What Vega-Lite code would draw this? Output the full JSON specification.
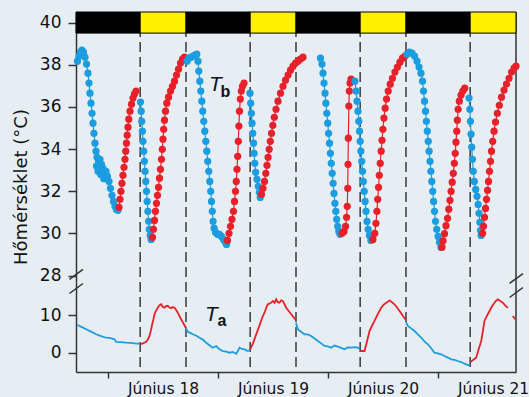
{
"$schema": "https://vega.github.io/schema/vega-lite/v6.json",
"background": "#e6eef4",
"padding": {"left": 12, "top": 11, "right": 0, "bottom": 0},
"bounds": "flush",
"config": {
 "view": {"stroke": null},
 "axis": {"labelFont": "DejaVu Sans", "titleFont": "DejaVu Sans", "labelColor": "#111", "titleColor": "#111", "domainColor": "#333", "tickColor": "#333", "domainWidth": 1.5, "tickWidth": 1.5, "grid": false}
},
"datasets": {
 "light": [{"start":-7,"end":7,"kind":"night"},{"start":7,"end":17,"kind":"day"},{"start":17,"end":31,"kind":"night"},{"start":31,"end":41,"kind":"day"},{"start":41,"end":55,"kind":"night"},{"start":55,"end":65,"kind":"day"},{"start":65,"end":79,"kind":"night"},{"start":79,"end":89,"kind":"day"}],
 "dash": [{"t":7},{"t":17},{"t":31},{"t":41},{"t":55},{"t":65},{"t":79}],
 "tb": [
{"t":-6.68,"v":38.17,"p":"cool","s":1},{"t":-6.35,"v":38.41,"p":"cool","s":1},{"t":-6.02,"v":38.60,"p":"cool","s":1},{"t":-5.70,"v":38.69,"p":"cool","s":1},{"t":-5.37,"v":38.60,"p":"cool","s":1},{"t":-5.04,"v":38.36,"p":"cool","s":1},{"t":-4.71,"v":38.03,"p":"cool","s":1},{"t":-4.39,"v":37.60,"p":"cool","s":1},{"t":-4.17,"v":37.13,"p":"cool","s":1},{"t":-3.95,"v":36.65,"p":"cool","s":1},{"t":-3.73,"v":36.18,"p":"cool","s":1},{"t":-3.51,"v":35.70,"p":"cool","s":1},{"t":-3.29,"v":35.23,"p":"cool","s":1},{"t":-3.08,"v":34.75,"p":"cool","s":1},{"t":-2.86,"v":34.28,"p":"cool","s":1},{"t":-2.64,"v":33.90,"p":"cool","s":1},{"t":-2.53,"v":33.20,"p":"cool","s":1},{"t":-2.42,"v":33.61,"p":"cool","s":1},{"t":-2.20,"v":32.95,"p":"cool","s":1},{"t":-2.09,"v":33.42,"p":"cool","s":1},{"t":-1.77,"v":33.52,"p":"cool","s":1},{"t":-1.60,"v":32.80,"p":"cool","s":1},{"t":-1.44,"v":33.28,"p":"cool","s":1},{"t":-1.11,"v":33.09,"p":"cool","s":1},{"t":-0.95,"v":32.60,"p":"cool","s":1},{"t":-0.79,"v":32.85,"p":"cool","s":1},{"t":-0.46,"v":32.95,"p":"cool","s":1},{"t":-0.13,"v":32.71,"p":"cool","s":1},{"t":0.20,"v":32.47,"p":"cool","s":1},{"t":0.52,"v":32.14,"p":"cool","s":1},{"t":0.85,"v":31.81,"p":"cool","s":1},{"t":1.18,"v":31.52,"p":"cool","s":1},{"t":1.51,"v":31.29,"p":"cool","s":1},{"t":1.83,"v":31.14,"p":"cool","s":1},{"t":2.16,"v":31.10,"p":"cool","s":1},
{"t":2.38,"v":31.24,"p":"warm","s":1},{"t":2.60,"v":31.62,"p":"warm","s":1},{"t":2.81,"v":32.00,"p":"warm","s":1},{"t":3.03,"v":32.38,"p":"warm","s":1},{"t":3.25,"v":32.76,"p":"warm","s":1},{"t":3.47,"v":33.14,"p":"warm","s":1},{"t":3.69,"v":33.52,"p":"warm","s":1},{"t":3.86,"v":33.90,"p":"warm","s":1},{"t":4.01,"v":34.28,"p":"warm","s":1},{"t":4.17,"v":34.66,"p":"warm","s":1},{"t":4.34,"v":35.04,"p":"warm","s":1},{"t":4.52,"v":35.42,"p":"warm","s":1},{"t":4.78,"v":35.80,"p":"warm","s":1},{"t":5.11,"v":36.13,"p":"warm","s":1},{"t":5.43,"v":36.42,"p":"warm","s":1},{"t":5.76,"v":36.61,"p":"warm","s":1},{"t":6.09,"v":36.75,"p":"warm","s":1},
{"t":7.07,"v":36.23,"p":"cool","s":2},{"t":7.22,"v":35.80,"p":"cool","s":2},{"t":7.35,"v":35.32,"p":"cool","s":2},{"t":7.48,"v":34.85,"p":"cool","s":2},{"t":7.62,"v":34.37,"p":"cool","s":2},{"t":7.77,"v":33.90,"p":"cool","s":2},{"t":7.92,"v":33.42,"p":"cool","s":2},{"t":8.07,"v":32.95,"p":"cool","s":2},{"t":8.23,"v":32.47,"p":"cool","s":2},{"t":8.38,"v":32.00,"p":"cool","s":2},{"t":8.53,"v":31.52,"p":"cool","s":2},{"t":8.68,"v":31.05,"p":"cool","s":2},{"t":8.84,"v":30.58,"p":"cool","s":2},{"t":8.99,"v":30.20,"p":"cool","s":2},{"t":9.19,"v":29.91,"p":"cool","s":2},{"t":9.40,"v":29.72,"p":"cool","s":2},
{"t":9.69,"v":29.82,"p":"warm","s":2},{"t":9.91,"v":30.20,"p":"warm","s":2},{"t":10.12,"v":30.62,"p":"warm","s":2},{"t":10.34,"v":31.05,"p":"warm","s":2},{"t":10.56,"v":31.43,"p":"warm","s":2},{"t":10.78,"v":31.81,"p":"warm","s":2},{"t":11.00,"v":32.19,"p":"warm","s":2},{"t":11.22,"v":32.62,"p":"warm","s":2},{"t":11.43,"v":33.04,"p":"warm","s":2},{"t":11.65,"v":33.52,"p":"warm","s":2},{"t":11.83,"v":33.99,"p":"warm","s":2},{"t":11.98,"v":34.47,"p":"warm","s":2},{"t":12.13,"v":34.94,"p":"warm","s":2},{"t":12.31,"v":35.37,"p":"warm","s":2},{"t":12.53,"v":35.80,"p":"warm","s":2},{"t":12.81,"v":36.18,"p":"warm","s":2},{"t":13.18,"v":36.46,"p":"warm","s":2},{"t":13.62,"v":36.75,"p":"warm","s":2},{"t":14.05,"v":36.98,"p":"warm","s":2},{"t":14.49,"v":37.22,"p":"warm","s":2},{"t":14.93,"v":37.51,"p":"warm","s":2},{"t":15.36,"v":37.79,"p":"warm","s":2},{"t":15.80,"v":38.08,"p":"warm","s":2},{"t":16.24,"v":38.27,"p":"warm","s":2},{"t":16.67,"v":38.36,"p":"warm","s":2},
{"t":17.22,"v":38.17,"p":"cool","s":3},{"t":17.65,"v":38.31,"p":"cool","s":3},{"t":18.09,"v":38.36,"p":"cool","s":3},{"t":18.53,"v":38.41,"p":"cool","s":3},{"t":18.96,"v":38.46,"p":"cool","s":3},{"t":19.35,"v":38.50,"p":"cool","s":3},{"t":19.62,"v":38.17,"p":"cool","s":3},{"t":19.79,"v":37.70,"p":"cool","s":3},{"t":20.01,"v":37.22,"p":"cool","s":3},{"t":20.23,"v":36.75,"p":"cool","s":3},{"t":20.45,"v":36.27,"p":"cool","s":3},{"t":20.66,"v":35.80,"p":"cool","s":3},{"t":20.88,"v":35.32,"p":"cool","s":3},{"t":21.10,"v":34.85,"p":"cool","s":3},{"t":21.32,"v":34.37,"p":"cool","s":3},{"t":21.54,"v":33.90,"p":"cool","s":3},{"t":21.75,"v":33.42,"p":"cool","s":3},{"t":21.97,"v":32.95,"p":"cool","s":3},{"t":22.19,"v":32.47,"p":"cool","s":3},{"t":22.39,"v":32.00,"p":"cool","s":3},{"t":22.56,"v":31.52,"p":"cool","s":3},{"t":22.74,"v":31.05,"p":"cool","s":3},{"t":22.91,"v":30.58,"p":"cool","s":3},{"t":23.13,"v":30.25,"p":"cool","s":3},{"t":23.44,"v":30.06,"p":"cool","s":3},{"t":23.87,"v":29.96,"p":"cool","s":3},{"t":24.31,"v":29.96,"p":"cool","s":3},{"t":24.75,"v":29.86,"p":"cool","s":3},{"t":25.18,"v":29.72,"p":"cool","s":3},{"t":25.62,"v":29.58,"p":"cool","s":3},{"t":25.84,"v":29.48,"p":"cool","s":3},
{"t":26.05,"v":29.67,"p":"warm","s":3},{"t":26.38,"v":30.01,"p":"warm","s":3},{"t":26.71,"v":30.34,"p":"warm","s":3},{"t":27.03,"v":30.67,"p":"warm","s":3},{"t":27.36,"v":31.05,"p":"warm","s":3},{"t":27.58,"v":31.52,"p":"warm","s":3},{"t":27.80,"v":32.00,"p":"warm","s":3},{"t":27.97,"v":32.47,"p":"warm","s":3},{"t":28.13,"v":33.04,"p":"warm","s":3},{"t":28.28,"v":33.66,"p":"warm","s":3},{"t":28.41,"v":34.37,"p":"warm","s":3},{"t":28.54,"v":35.09,"p":"warm","s":3},{"t":28.67,"v":35.80,"p":"warm","s":3},{"t":28.85,"v":36.37,"p":"warm","s":3},{"t":29.07,"v":36.75,"p":"warm","s":3},{"t":29.33,"v":36.98,"p":"warm","s":3},{"t":29.66,"v":37.13,"p":"warm","s":3},
{"t":30.96,"v":36.65,"p":"cool","s":4},{"t":31.12,"v":36.18,"p":"cool","s":4},{"t":31.27,"v":35.70,"p":"cool","s":4},{"t":31.42,"v":35.23,"p":"cool","s":4},{"t":31.58,"v":34.75,"p":"cool","s":4},{"t":31.73,"v":34.28,"p":"cool","s":4},{"t":31.86,"v":33.80,"p":"cool","s":4},{"t":32.01,"v":33.33,"p":"cool","s":4},{"t":32.21,"v":32.90,"p":"cool","s":4},{"t":32.49,"v":32.57,"p":"cool","s":4},{"t":32.78,"v":32.24,"p":"cool","s":4},{"t":33.00,"v":31.95,"p":"cool","s":4},{"t":33.19,"v":31.71,"p":"cool","s":4},
{"t":33.47,"v":31.86,"p":"warm","s":4},{"t":33.80,"v":32.14,"p":"warm","s":4},{"t":34.13,"v":32.47,"p":"warm","s":4},{"t":34.41,"v":32.85,"p":"warm","s":4},{"t":34.67,"v":33.23,"p":"warm","s":4},{"t":34.91,"v":33.61,"p":"warm","s":4},{"t":35.15,"v":33.99,"p":"warm","s":4},{"t":35.39,"v":34.37,"p":"warm","s":4},{"t":35.66,"v":34.75,"p":"warm","s":4},{"t":35.94,"v":35.13,"p":"warm","s":4},{"t":36.27,"v":35.51,"p":"warm","s":4},{"t":36.64,"v":35.89,"p":"warm","s":4},{"t":37.07,"v":36.27,"p":"warm","s":4},{"t":37.62,"v":36.65,"p":"warm","s":4},{"t":38.17,"v":36.98,"p":"warm","s":4},{"t":38.71,"v":37.27,"p":"warm","s":4},{"t":39.26,"v":37.51,"p":"warm","s":4},{"t":39.80,"v":37.74,"p":"warm","s":4},{"t":40.35,"v":37.93,"p":"warm","s":4},{"t":40.89,"v":38.08,"p":"warm","s":4},{"t":41.44,"v":38.17,"p":"warm","s":4},{"t":41.98,"v":38.27,"p":"warm","s":4},{"t":42.53,"v":38.36,"p":"warm","s":4},
{"t":46.35,"v":38.31,"p":"cool","s":5},{"t":46.67,"v":38.03,"p":"cool","s":5},{"t":46.89,"v":37.60,"p":"cool","s":5},{"t":47.11,"v":37.13,"p":"cool","s":5},{"t":47.33,"v":36.65,"p":"cool","s":5},{"t":47.52,"v":36.18,"p":"cool","s":5},{"t":47.72,"v":35.70,"p":"cool","s":5},{"t":47.92,"v":35.23,"p":"cool","s":5},{"t":48.11,"v":34.75,"p":"cool","s":5},{"t":48.31,"v":34.28,"p":"cool","s":5},{"t":48.51,"v":33.80,"p":"cool","s":5},{"t":48.70,"v":33.33,"p":"cool","s":5},{"t":48.90,"v":32.85,"p":"cool","s":5},{"t":49.10,"v":32.38,"p":"cool","s":5},{"t":49.29,"v":31.90,"p":"cool","s":5},{"t":49.49,"v":31.43,"p":"cool","s":5},{"t":49.69,"v":31.05,"p":"cool","s":5},{"t":49.88,"v":30.67,"p":"cool","s":5},{"t":50.10,"v":30.34,"p":"cool","s":5},{"t":50.34,"v":30.10,"p":"cool","s":5},{"t":50.60,"v":29.96,"p":"cool","s":5},
{"t":51.04,"v":30.01,"p":"warm","s":5},{"t":51.48,"v":30.10,"p":"warm","s":5},{"t":51.81,"v":30.34,"p":"warm","s":5},{"t":52.03,"v":30.77,"p":"warm","s":5},{"t":52.18,"v":31.29,"p":"warm","s":5},{"t":52.29,"v":32.14,"p":"warm","s":5},{"t":52.35,"v":33.28,"p":"warm","s":5},{"t":52.42,"v":34.52,"p":"warm","s":5},{"t":52.53,"v":36.04,"p":"warm","s":5},{"t":52.64,"v":36.75,"p":"warm","s":5},{"t":52.79,"v":37.13,"p":"warm","s":5},{"t":53.01,"v":37.32,"p":"warm","s":5},
{"t":53.85,"v":37.22,"p":"cool","s":6},{"t":54.11,"v":36.75,"p":"cool","s":6},{"t":54.33,"v":36.27,"p":"cool","s":6},{"t":54.53,"v":35.80,"p":"cool","s":6},{"t":54.70,"v":35.32,"p":"cool","s":6},{"t":54.86,"v":34.85,"p":"cool","s":6},{"t":55.01,"v":34.37,"p":"cool","s":6},{"t":55.16,"v":33.90,"p":"cool","s":6},{"t":55.34,"v":33.42,"p":"cool","s":6},{"t":55.51,"v":32.95,"p":"cool","s":6},{"t":55.69,"v":32.47,"p":"cool","s":6},{"t":55.88,"v":32.00,"p":"cool","s":6},{"t":56.08,"v":31.52,"p":"cool","s":6},{"t":56.28,"v":31.05,"p":"cool","s":6},{"t":56.50,"v":30.57,"p":"cool","s":6},{"t":56.74,"v":30.20,"p":"cool","s":6},{"t":57.02,"v":29.91,"p":"cool","s":6},{"t":57.35,"v":29.67,"p":"cool","s":6},
{"t":57.78,"v":29.72,"p":"warm","s":6},{"t":58.18,"v":30.01,"p":"warm","s":6},{"t":58.44,"v":30.48,"p":"warm","s":6},{"t":58.66,"v":31.05,"p":"warm","s":6},{"t":58.83,"v":31.62,"p":"warm","s":6},{"t":59.01,"v":32.19,"p":"warm","s":6},{"t":59.18,"v":32.76,"p":"warm","s":6},{"t":59.38,"v":33.33,"p":"warm","s":6},{"t":59.58,"v":33.90,"p":"warm","s":6},{"t":59.77,"v":34.42,"p":"warm","s":6},{"t":59.97,"v":34.94,"p":"warm","s":6},{"t":60.19,"v":35.47,"p":"warm","s":6},{"t":60.45,"v":35.94,"p":"warm","s":6},{"t":60.75,"v":36.37,"p":"warm","s":6},{"t":61.12,"v":36.75,"p":"warm","s":6},{"t":61.56,"v":37.08,"p":"warm","s":6},{"t":62.04,"v":37.36,"p":"warm","s":6},{"t":62.59,"v":37.65,"p":"warm","s":6},{"t":63.13,"v":37.89,"p":"warm","s":6},{"t":63.68,"v":38.12,"p":"warm","s":6},{"t":64.23,"v":38.31,"p":"warm","s":6},{"t":64.77,"v":38.41,"p":"warm","s":6},
{"t":65.22,"v":38.50,"p":"cool","s":7},{"t":65.77,"v":38.60,"p":"cool","s":7},{"t":66.31,"v":38.55,"p":"cool","s":7},{"t":66.86,"v":38.41,"p":"cool","s":7},{"t":67.40,"v":38.17,"p":"cool","s":7},{"t":67.84,"v":37.89,"p":"cool","s":7},{"t":68.27,"v":37.60,"p":"cool","s":7},{"t":68.60,"v":37.22,"p":"cool","s":7},{"t":68.82,"v":36.75,"p":"cool","s":7},{"t":69.04,"v":36.27,"p":"cool","s":7},{"t":69.26,"v":35.80,"p":"cool","s":7},{"t":69.45,"v":35.32,"p":"cool","s":7},{"t":69.65,"v":34.85,"p":"cool","s":7},{"t":69.85,"v":34.37,"p":"cool","s":7},{"t":70.04,"v":33.90,"p":"cool","s":7},{"t":70.24,"v":33.42,"p":"cool","s":7},{"t":70.43,"v":32.95,"p":"cool","s":7},{"t":70.63,"v":32.47,"p":"cool","s":7},{"t":70.83,"v":32.00,"p":"cool","s":7},{"t":71.02,"v":31.52,"p":"cool","s":7},{"t":71.22,"v":31.05,"p":"cool","s":7},{"t":71.44,"v":30.58,"p":"cool","s":7},{"t":71.70,"v":30.20,"p":"cool","s":7},{"t":72.00,"v":29.86,"p":"cool","s":7},{"t":72.31,"v":29.58,"p":"cool","s":7},{"t":72.64,"v":29.34,"p":"cool","s":7},
{"t":72.85,"v":29.35,"p":"warm","s":7},{"t":73.08,"v":29.65,"p":"warm","s":7},{"t":73.40,"v":29.99,"p":"warm","s":7},{"t":73.73,"v":30.37,"p":"warm","s":7},{"t":74.06,"v":30.72,"p":"warm","s":7},{"t":74.34,"v":31.15,"p":"warm","s":7},{"t":74.60,"v":31.57,"p":"warm","s":7},{"t":74.84,"v":32.00,"p":"warm","s":7},{"t":75.08,"v":32.43,"p":"warm","s":7},{"t":75.32,"v":32.85,"p":"warm","s":7},{"t":75.54,"v":33.33,"p":"warm","s":7},{"t":75.74,"v":33.80,"p":"warm","s":7},{"t":75.91,"v":34.33,"p":"warm","s":7},{"t":76.07,"v":34.85,"p":"warm","s":7},{"t":76.20,"v":35.37,"p":"warm","s":7},{"t":76.37,"v":35.89,"p":"warm","s":7},{"t":76.63,"v":36.27,"p":"warm","s":7},{"t":77.00,"v":36.56,"p":"warm","s":7},{"t":77.40,"v":36.75,"p":"warm","s":7},{"t":77.81,"v":36.89,"p":"warm","s":7},
{"t":78.75,"v":36.42,"p":"cool","s":8},{"t":78.93,"v":35.89,"p":"cool","s":8},{"t":79.06,"v":35.32,"p":"cool","s":8},{"t":79.19,"v":34.71,"p":"cool","s":8},{"t":79.34,"v":34.09,"p":"cool","s":8},{"t":79.50,"v":33.52,"p":"cool","s":8},{"t":79.67,"v":32.95,"p":"cool","s":8},{"t":79.91,"v":32.47,"p":"cool","s":8},{"t":80.21,"v":32.09,"p":"cool","s":8},{"t":80.50,"v":31.76,"p":"cool","s":8},{"t":80.74,"v":31.38,"p":"cool","s":8},{"t":80.93,"v":30.96,"p":"cool","s":8},{"t":81.11,"v":30.53,"p":"cool","s":8},{"t":81.26,"v":30.15,"p":"cool","s":8},{"t":81.39,"v":29.91,"p":"cool","s":8},
{"t":81.70,"v":30.01,"p":"warm","s":8},{"t":81.91,"v":30.34,"p":"warm","s":8},{"t":82.13,"v":30.77,"p":"warm","s":8},{"t":82.35,"v":31.19,"p":"warm","s":8},{"t":82.57,"v":31.62,"p":"warm","s":8},{"t":82.79,"v":32.05,"p":"warm","s":8},{"t":83.00,"v":32.47,"p":"warm","s":8},{"t":83.22,"v":32.95,"p":"warm","s":8},{"t":83.44,"v":33.42,"p":"warm","s":8},{"t":83.66,"v":33.90,"p":"warm","s":8},{"t":83.92,"v":34.37,"p":"warm","s":8},{"t":84.21,"v":34.85,"p":"warm","s":8},{"t":84.53,"v":35.28,"p":"warm","s":8},{"t":84.93,"v":35.70,"p":"warm","s":8},{"t":85.36,"v":36.08,"p":"warm","s":8},{"t":85.84,"v":36.46,"p":"warm","s":8},{"t":86.39,"v":36.80,"p":"warm","s":8},{"t":86.93,"v":37.08,"p":"warm","s":8},{"t":87.48,"v":37.36,"p":"warm","s":8},{"t":88.02,"v":37.65,"p":"warm","s":8},{"t":88.57,"v":37.84,"p":"warm","s":8},{"t":89.00,"v":37.93,"p":"warm","s":8}
 ],
 "ta": [
{"t":-6.68,"v":7.4,"p":"cool","s":1},{"t":-5.80,"v":6.9,"p":"cool","s":1},{"t":-4.78,"v":6.26,"p":"cool","s":1},{"t":-3.84,"v":5.7,"p":"cool","s":1},{"t":-2.60,"v":4.92,"p":"cool","s":1},{"t":-1.66,"v":4.5,"p":"cool","s":1},{"t":-0.41,"v":4.0,"p":"cool","s":1},{"t":0.52,"v":3.9,"p":"cool","s":1},{"t":1.40,"v":3.58,"p":"cool","s":1},{"t":1.77,"v":2.86,"p":"cool","s":1},{"t":2.71,"v":2.8,"p":"cool","s":1},{"t":3.95,"v":2.67,"p":"cool","s":1},{"t":4.89,"v":2.6,"p":"cool","s":1},{"t":6.13,"v":2.41,"p":"cool","s":1},{"t":7.00,"v":2.4,"p":"cool","s":1},
{"t":7.00,"v":2.3,"p":"warm","s":1},{"t":7.61,"v":2.5,"p":"warm","s":1},{"t":8.31,"v":2.94,"p":"warm","s":1},{"t":8.71,"v":3.6,"p":"warm","s":1},{"t":9.03,"v":4.47,"p":"warm","s":1},{"t":9.36,"v":6.0,"p":"warm","s":1},{"t":9.62,"v":7.59,"p":"warm","s":1},{"t":9.91,"v":9.0,"p":"warm","s":1},{"t":10.12,"v":10.27,"p":"warm","s":1},{"t":10.45,"v":11.2,"p":"warm","s":1},{"t":10.84,"v":12.03,"p":"warm","s":1},{"t":11.22,"v":12.7,"p":"warm","s":1},{"t":11.59,"v":12.94,"p":"warm","s":1},{"t":11.94,"v":12.2,"p":"warm","s":1},{"t":12.31,"v":12.03,"p":"warm","s":1},{"t":12.68,"v":12.5,"p":"warm","s":1},{"t":13.03,"v":12.49,"p":"warm","s":1},{"t":13.40,"v":12.1,"p":"warm","s":1},{"t":13.77,"v":11.87,"p":"warm","s":1},{"t":14.12,"v":12.2,"p":"warm","s":1},{"t":14.49,"v":12.03,"p":"warm","s":1},{"t":14.86,"v":11.4,"p":"warm","s":1},{"t":15.21,"v":10.7,"p":"warm","s":1},{"t":15.58,"v":9.8,"p":"warm","s":1},{"t":15.95,"v":8.93,"p":"warm","s":1},{"t":16.45,"v":7.8,"p":"warm","s":1},{"t":17.00,"v":6.6,"p":"warm","s":1},
{"t":17.00,"v":6.5,"p":"cool","s":2},{"t":17.39,"v":5.61,"p":"cool","s":2},{"t":17.91,"v":5.3,"p":"cool","s":2},{"t":18.48,"v":4.92,"p":"cool","s":2},{"t":19.18,"v":4.6,"p":"cool","s":2},{"t":19.94,"v":4.01,"p":"cool","s":2},{"t":20.66,"v":3.5,"p":"cool","s":2},{"t":21.41,"v":2.67,"p":"cool","s":2},{"t":22.13,"v":2.0,"p":"cool","s":2},{"t":22.85,"v":1.34,"p":"cool","s":2},{"t":23.59,"v":1.79,"p":"cool","s":2},{"t":24.31,"v":0.9,"p":"cool","s":2},{"t":25.03,"v":0.45,"p":"cool","s":2},{"t":25.77,"v":0.3,"p":"cool","s":2},{"t":26.49,"v":0.0,"p":"cool","s":2},{"t":27.21,"v":0.2,"p":"cool","s":2},{"t":27.95,"v":-0.27,"p":"cool","s":2},{"t":28.34,"v":0.5,"p":"cool","s":2},{"t":28.67,"v":1.34,"p":"cool","s":2},{"t":29.22,"v":1.0,"p":"cool","s":2},{"t":29.76,"v":0.91,"p":"cool","s":2},{"t":30.31,"v":0.5,"p":"cool","s":2},{"t":31.00,"v":0.64,"p":"cool","s":2},
{"t":31.00,"v":0.9,"p":"warm","s":2},{"t":31.62,"v":2.5,"p":"warm","s":2},{"t":32.32,"v":4.92,"p":"warm","s":2},{"t":33.04,"v":7.3,"p":"warm","s":2},{"t":33.76,"v":9.81,"p":"warm","s":2},{"t":34.13,"v":10.7,"p":"warm","s":2},{"t":34.50,"v":12.0,"p":"warm","s":2},{"t":34.85,"v":12.94,"p":"warm","s":2},{"t":35.39,"v":13.2,"p":"warm","s":2},{"t":35.94,"v":13.82,"p":"warm","s":2},{"t":36.31,"v":13.3,"p":"warm","s":2},{"t":36.68,"v":14.28,"p":"warm","s":2},{"t":37.03,"v":13.5,"p":"warm","s":2},{"t":37.40,"v":13.37,"p":"warm","s":2},{"t":37.77,"v":14.0,"p":"warm","s":2},{"t":38.12,"v":13.82,"p":"warm","s":2},{"t":38.49,"v":13.0,"p":"warm","s":2},{"t":38.86,"v":12.03,"p":"warm","s":2},{"t":39.36,"v":11.2,"p":"warm","s":2},{"t":39.95,"v":10.27,"p":"warm","s":2},{"t":40.45,"v":9.5,"p":"warm","s":2},{"t":41.00,"v":8.66,"p":"warm","s":2},
{"t":41.00,"v":8.0,"p":"cool","s":3},{"t":41.39,"v":6.26,"p":"cool","s":3},{"t":42.09,"v":5.6,"p":"cool","s":3},{"t":42.85,"v":4.92,"p":"cool","s":3},{"t":43.57,"v":4.9,"p":"cool","s":3},{"t":44.32,"v":4.47,"p":"cool","s":3},{"t":45.04,"v":3.8,"p":"cool","s":3},{"t":45.76,"v":3.13,"p":"cool","s":3},{"t":46.50,"v":2.5,"p":"cool","s":3},{"t":47.22,"v":1.79,"p":"cool","s":3},{"t":47.94,"v":1.7,"p":"cool","s":3},{"t":48.68,"v":1.34,"p":"cool","s":3},{"t":49.40,"v":1.9,"p":"cool","s":3},{"t":50.12,"v":1.6,"p":"cool","s":3},{"t":50.86,"v":1.3,"p":"cool","s":3},{"t":51.58,"v":0.91,"p":"cool","s":3},{"t":52.30,"v":1.4,"p":"cool","s":3},{"t":53.04,"v":1.34,"p":"cool","s":3},{"t":53.76,"v":1.5,"p":"cool","s":3},{"t":54.48,"v":1.34,"p":"cool","s":3},{"t":55.00,"v":1.0,"p":"cool","s":3},
{"t":55.00,"v":0.45,"p":"warm","s":3},{"t":55.50,"v":0.45,"p":"warm","s":3},{"t":55.95,"v":0.45,"p":"warm","s":3},{"t":56.49,"v":3.0,"p":"warm","s":3},{"t":57.04,"v":5.8,"p":"warm","s":3},{"t":57.59,"v":7.2,"p":"warm","s":3},{"t":58.13,"v":8.48,"p":"warm","s":3},{"t":58.86,"v":10.4,"p":"warm","s":3},{"t":59.59,"v":12.03,"p":"warm","s":3},{"t":60.09,"v":12.8,"p":"warm","s":3},{"t":60.68,"v":13.37,"p":"warm","s":3},{"t":61.03,"v":13.6,"p":"warm","s":3},{"t":61.40,"v":14.0,"p":"warm","s":3},{"t":61.95,"v":13.5,"p":"warm","s":3},{"t":62.49,"v":12.94,"p":"warm","s":3},{"t":63.04,"v":12.1,"p":"warm","s":3},{"t":63.58,"v":11.15,"p":"warm","s":3},{"t":64.13,"v":10.2,"p":"warm","s":3},{"t":64.68,"v":9.2,"p":"warm","s":3},{"t":65.00,"v":8.8,"p":"warm","s":3},
{"t":65.00,"v":8.2,"p":"cool","s":4},{"t":65.39,"v":7.14,"p":"cool","s":4},{"t":66.13,"v":6.5,"p":"cool","s":4},{"t":66.86,"v":5.8,"p":"cool","s":4},{"t":67.58,"v":4.9,"p":"cool","s":4},{"t":68.32,"v":4.01,"p":"cool","s":4},{"t":69.04,"v":3.0,"p":"cool","s":4},{"t":69.76,"v":2.25,"p":"cool","s":4},{"t":70.50,"v":1.2,"p":"cool","s":4},{"t":71.22,"v":0.0,"p":"cool","s":4},{"t":71.94,"v":-0.2,"p":"cool","s":4},{"t":72.68,"v":-0.43,"p":"cool","s":4},{"t":73.40,"v":-0.9,"p":"cool","s":4},{"t":74.12,"v":-1.3,"p":"cool","s":4},{"t":74.86,"v":-1.76,"p":"cool","s":4},{"t":75.58,"v":-1.9,"p":"cool","s":4},{"t":76.30,"v":-2.22,"p":"cool","s":4},{"t":77.04,"v":-2.5,"p":"cool","s":4},{"t":77.77,"v":-2.94,"p":"cool","s":4},{"t":78.49,"v":-3.29,"p":"cool","s":4},{"t":79.01,"v":-3.3,"p":"cool","s":4},
{"t":79.01,"v":-2.6,"p":"warm","s":4},{"t":79.57,"v":-2.0,"p":"warm","s":4},{"t":80.31,"v":-1.34,"p":"warm","s":4},{"t":80.82,"v":0.8,"p":"warm","s":4},{"t":81.41,"v":3.13,"p":"warm","s":4},{"t":81.80,"v":6.0,"p":"warm","s":4},{"t":82.13,"v":8.48,"p":"warm","s":4},{"t":82.68,"v":9.9,"p":"warm","s":4},{"t":83.22,"v":11.15,"p":"warm","s":4},{"t":83.77,"v":12.4,"p":"warm","s":4},{"t":84.31,"v":13.37,"p":"warm","s":4},{"t":84.68,"v":13.9,"p":"warm","s":4},{"t":85.03,"v":14.28,"p":"warm","s":4},{"t":85.58,"v":13.8,"p":"warm","s":4},{"t":86.12,"v":13.37,"p":"warm","s":4},{"t":86.67,"v":12.6,"p":"warm","s":4},{"t":87.21,"v":12.03,"p":"warm","s":4},
{"t":88.30,"v":9.81,"p":"warm","s":5},{"t":88.83,"v":8.93,"p":"warm","s":5}
 ]
},
"vconcat": [
 {
  "width": 440, "height": 270,
  "layer": [
   {"data": {"name": "dash"}, "mark": {"type": "rule", "strokeDash": [10, 5], "color": "#3a3a3a", "strokeWidth": 1.5},
    "encoding": {"x": {"field": "t", "type": "quantitative", "scale": {"domain": [-7, 89], "nice": false, "zero": false}, "axis": null}}},
   {"data": {"values": [{}]}, "mark": {"type": "rule", "color": "#333", "strokeWidth": 1.5},
    "encoding": {"x": {"datum": 89, "type": "quantitative", "axis": null}}},
   {"data": {"name": "tb"}, "mark": {"type": "line", "strokeWidth": 1.2},
    "encoding": {
     "x": {"field": "t", "type": "quantitative", "axis": null},
     "y": {"field": "v", "type": "quantitative", "scale": {"domain": [27.7, 40.5], "nice": false, "zero": false},
       "axis": {"values": [28, 30, 32, 34, 36, 38, 40], "title": "Hőmérséklet (°C)", "titleFontSize": 18, "titleFontWeight": "normal", "titleX": -49.5, "titleY": 174.5, "titleBaseline": "alphabetic", "titleAngle": -90, "tickSize": 8, "labelFontSize": 17, "labelPadding": 7}},
     "color": {"field": "p", "type": "nominal", "scale": {"domain": ["cool", "warm"], "range": ["#1b9de0", "#e8202a"]}, "legend": null},
     "detail": {"field": "s"}}},
   {"data": {"name": "tb"}, "mark": {"type": "circle", "size": 52, "opacity": 1},
    "encoding": {
     "x": {"field": "t", "type": "quantitative", "axis": null},
     "y": {"field": "v", "type": "quantitative"},
     "color": {"field": "p", "type": "nominal", "scale": {"domain": ["cool", "warm"], "range": ["#1b9de0", "#e8202a"]}, "legend": null}}},
   {"data": {"name": "light"}, "mark": {"type": "rect", "stroke": "#000", "strokeWidth": 1},
    "encoding": {
     "x": {"field": "start", "type": "quantitative", "axis": null}, "x2": {"field": "end"},
     "y": {"datum": 39.5}, "y2": {"datum": 40.5},
     "fill": {"field": "kind", "type": "nominal", "scale": {"domain": ["night", "day"], "range": ["#000000", "#fff000"]}, "legend": null}}},
   {"data": {"values": [{}]}, "mark": {"type": "text", "text": "T", "font": "Liberation Sans", "fontStyle": "italic", "fontSize": 21, "color": "#111"},
    "encoding": {"x": {"datum": 23.43, "type": "quantitative", "axis": null}, "y": {"datum": 37.03}}},
   {"data": {"values": [{}]}, "mark": {"type": "text", "text": "b", "font": "Liberation Sans", "fontSize": 16, "fontWeight": "bold", "color": "#111"},
    "encoding": {"x": {"datum": 25.62, "type": "quantitative", "axis": null}, "y": {"datum": 36.70}}},
   {"data": {"values": [{}]}, "mark": {"type": "rule", "color": "#333", "strokeWidth": 1.5},
    "encoding": {"x": {"datum": -8.42, "type": "quantitative", "axis": null}, "x2": {"datum": -5.48}, "y": {"datum": 27.82}, "y2": {"datum": 28.30}}},
   {"data": {"values": [{}]}, "mark": {"type": "rule", "color": "#333", "strokeWidth": 1.5},
    "encoding": {"x": {"datum": 87.59, "type": "quantitative", "axis": null}, "x2": {"datum": 90.53}, "y": {"datum": 27.63}, "y2": {"datum": 28.10}}}
  ]
 },
 {
  "width": 440, "height": 90,
  "layer": [
   {"data": {"name": "dash"}, "mark": {"type": "rule", "strokeDash": [10, 5], "color": "#3a3a3a", "strokeWidth": 1.5},
    "encoding": {"x": {"field": "t", "type": "quantitative", "scale": {"domain": [-7, 89], "nice": false, "zero": false}}}},
   {"data": {"values": [{}]}, "mark": {"type": "rule", "color": "#333", "strokeWidth": 1.5},
    "encoding": {"x": {"datum": 89, "type": "quantitative"}}},
   {"data": {"name": "ta"}, "mark": {"type": "line", "strokeWidth": 1.8},
    "encoding": {
     "x": {"field": "t", "type": "quantitative", "scale": {"domain": [-7, 89], "nice": false, "zero": false},
       "axis": {"values": [0, 12, 24, 36, 48, 60, 72, 84], "title": null, "labelExpr": "datum.value % 24 == 12 ? 'Június ' + (18 + floor(datum.value / 24)) : ''", "tickOpacity": {"condition": {"test": "datum.value % 24 == 12", "value": 0}, "value": 1}, "tickSize": 6, "labelFontSize": 15.5, "labelPadding": 3, "labelFlush": false, "labelOverlap": false}},
     "y": {"field": "v", "type": "quantitative", "scale": {"domain": [-5.16, 18.9], "nice": false, "zero": false},
       "axis": {"values": [0, 10], "title": null, "tickSize": 8, "labelFontSize": 17, "labelPadding": 7}},
     "color": {"field": "p", "type": "nominal", "scale": {"domain": ["cool", "warm"], "range": ["#1b9de0", "#e8202a"]}, "legend": null},
     "detail": {"field": "s"}}},
   {"data": {"values": [{}]}, "mark": {"type": "text", "text": "T", "font": "Liberation Sans", "fontStyle": "italic", "fontSize": 21, "color": "#111"},
    "encoding": {"x": {"datum": 22.56, "type": "quantitative"}, "y": {"datum": 10.2}}},
   {"data": {"values": [{}]}, "mark": {"type": "text", "text": "a", "font": "Liberation Sans", "fontSize": 16, "fontWeight": "bold", "color": "#111"},
    "encoding": {"x": {"datum": 24.85, "type": "quantitative"}, "y": {"datum": 8.5}}},
   {"data": {"values": [{}]}, "mark": {"type": "rule", "color": "#333", "strokeWidth": 1.5},
    "encoding": {"x": {"datum": -8.42, "type": "quantitative"}, "x2": {"datum": -5.48}, "y": {"datum": 15.83}, "y2": {"datum": 18.5}}},
   {"data": {"values": [{}]}, "mark": {"type": "rule", "color": "#333", "strokeWidth": 1.5},
    "encoding": {"x": {"datum": 87.59, "type": "quantitative"}, "x2": {"datum": 90.53}, "y": {"datum": 14.76}, "y2": {"datum": 17.43}}}
  ]
 }
],
"spacing": 0
}
